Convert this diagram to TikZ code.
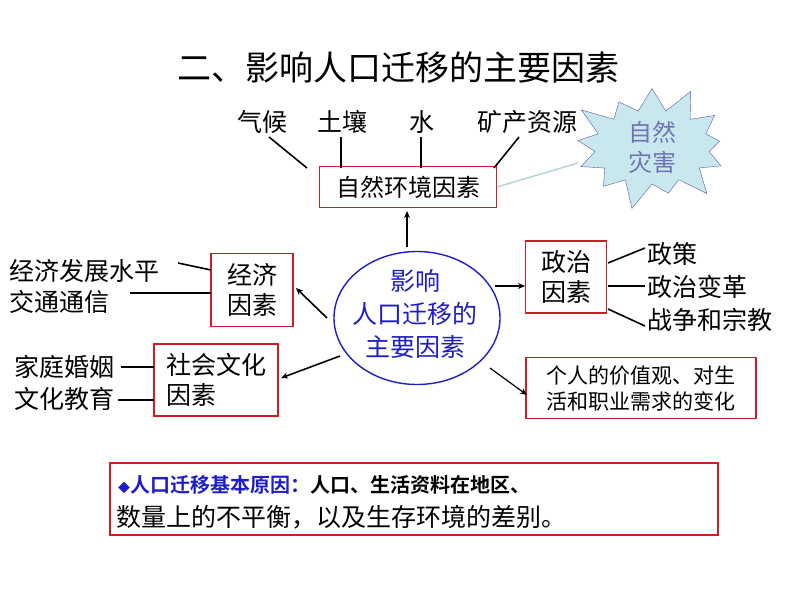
\documentclass[tikz,border=0pt]{standalone}
\usepackage{fontspec}
\setmainfont{Noto Sans CJK SC}
\newfontfamily\cjkb[BoldFont={* Bold}]{Noto Sans CJK SC}
\usetikzlibrary{shapes.misc,shapes.symbols,shapes.geometric,arrows.meta}
\definecolor{bred}{RGB}{205,30,40}
\definecolor{cblue}{RGB}{30,30,200}
\definecolor{starfill}{RGB}{200,232,238}
\begin{document}
\begin{tikzpicture}[x=1pt,y=-1pt,
  rbox/.style={draw=bred,line width=1.6pt,inner sep=3pt,font=\fontsize{25}{30}\selectfont,align=left},
  lbl/.style={font=\fontsize{25}{30}\selectfont,inner sep=1pt},
  ln/.style={line width=1.6pt},
  arr/.style={line width=1.6pt,-{Stealth[length=7pt,width=6pt]}}]
\useasboundingbox (0,0) rectangle (794,596);
\node (title) at (398,68) {\fontsize{34}{38}\selectfont 二、影响人口迁移的主要因素};
% top
\node[rbox,minimum width=177pt,minimum height=41pt,font=\fontsize{24}{28}\selectfont] (nat) at (408,187) {自然环境因素};
\node[lbl] (qh) at (262,122) {气候};
\node[lbl] (tr) at (342,122) {土壤};
\node[lbl] (sh) at (422,122) {水};
\node[lbl] (kc) at (527,122) {矿产资源};
\coordinate (q1) at (269,137); \coordinate (q2) at (307,168);
\coordinate (t1) at (341,137); \coordinate (t2) at (341,168);
\coordinate (s1) at (421,137); \coordinate (s2) at (421,168);
\coordinate (k1) at (519,137); \coordinate (k2) at (494,168);
\draw[ln] (q1)--(q2); \draw[ln] (t1)--(t2); \draw[ln] (s1)--(s2); \draw[ln] (k1)--(k2);
\node[starburst,starburst points=13,starburst point height=30pt,draw=gray!70!blue,fill=starfill,minimum width=175pt,minimum height=125pt,inner sep=0pt,align=center,text=cblue!50!white!80!black,font=\fontsize{24}{30}\selectfont] (star) at (652,147) {自然\\灾害};
\coordinate (sa) at (497,187); \coordinate (sb) at (578,163);
\draw[line width=1.5pt,starfill!80!gray] (sa)--(sb);
% center
\node[draw=cblue,line width=1.4pt,ellipse,minimum width=166pt,minimum height=133pt,inner sep=0pt] (c) at (417,318) {};
\node[align=center,text=cblue,font=\fontsize{25}{33}\selectfont] (ct) at (415,314) {影响\\人口迁移的\\主要因素};
\coordinate (u1) at (407,247); \coordinate (u2) at (407,211);
\draw[arr] (u1)--(u2);
% economy
\node[rbox,minimum width=82pt,minimum height=73pt] (eco) at (252,290) {经济\\因素};
\coordinate (e1) at (327,318); \coordinate (e2) at (296,288);
\draw[arr] (e1)--(e2);
\node[lbl,anchor=west] (e_a) at (8,271) {经济发展水平};
\node[lbl,anchor=west] (e_b) at (8,302) {交通通信};
\coordinate (ea1) at (178,263); \coordinate (ea2) at (211,270);
\coordinate (eb1) at (130,293); \coordinate (eb2) at (211,293);
\draw[ln] (ea1)--(ea2); \draw[ln] (eb1)--(eb2);
% social
\node[rbox,minimum width=124pt,minimum height=72pt] (soc) at (216,380) {社会文化\\因素};
\coordinate (so1) at (340,356); \coordinate (so2) at (281,378);
\draw[arr] (so1)--(so2);
\node[lbl,anchor=west] (s_a) at (13,367) {家庭婚姻};
\node[lbl,anchor=west] (s_b) at (13,399) {文化教育};
\coordinate (sa1) at (121,367); \coordinate (sa2) at (154,367);
\coordinate (sb1) at (118,400); \coordinate (sb2) at (154,400);
\draw[ln] (sa1)--(sa2); \draw[ln] (sb1)--(sb2);
% politics
\node[rbox,minimum width=81pt,minimum height=72pt] (pol) at (566,277) {政治\\因素};
\coordinate (p1) at (495,286); \coordinate (p2) at (525,286);
\draw[arr] (p1)--(p2);
\node[lbl,anchor=west] (p_a) at (646,254) {政策};
\node[lbl,anchor=west] (p_b) at (646,287) {政治变革};
\node[lbl,anchor=west] (p_c) at (646,320) {战争和宗教};
\coordinate (pa1) at (608,263); \coordinate (pa2) at (645,248);
\coordinate (pb1) at (608,286); \coordinate (pb2) at (645,286);
\coordinate (pc1) at (608,309); \coordinate (pc2) at (645,326);
\draw[ln] (pa1)--(pa2); \draw[ln] (pb1)--(pb2); \draw[ln] (pc1)--(pc2);
% personal
\node[rbox,minimum width=230pt,minimum height=61pt,font=\fontsize{21}{26}\selectfont] (per) at (641,388) {个人的价值观、对生\\活和职业需求的变化};
\coordinate (r1) at (490,368); \coordinate (r2) at (527,395);
\draw[line width=1.2pt,-{Stealth[length=7pt,width=6pt]}] (r1)--(r2);
% bottom
\node[draw=bred,line width=2pt,minimum width=608pt,minimum height=72pt,inner sep=0pt] (bot) at (414,499) {};
\node[anchor=west,inner sep=0pt,font=\fontsize{20}{24}\selectfont] (b1) at (118,485) {\textcolor{cblue}{\cjkb\bfseries{\fontsize{12}{14}\selectfont◆}人口迁移基本原因：}{\cjkb\bfseries 人口、生活资料在地区、}};
\node[anchor=west,inner sep=0pt,font=\fontsize{25}{28}\selectfont] (b2) at (116,517) {数量上的不平衡，以及生存环境的差别。};
\end{tikzpicture}
\end{document}
